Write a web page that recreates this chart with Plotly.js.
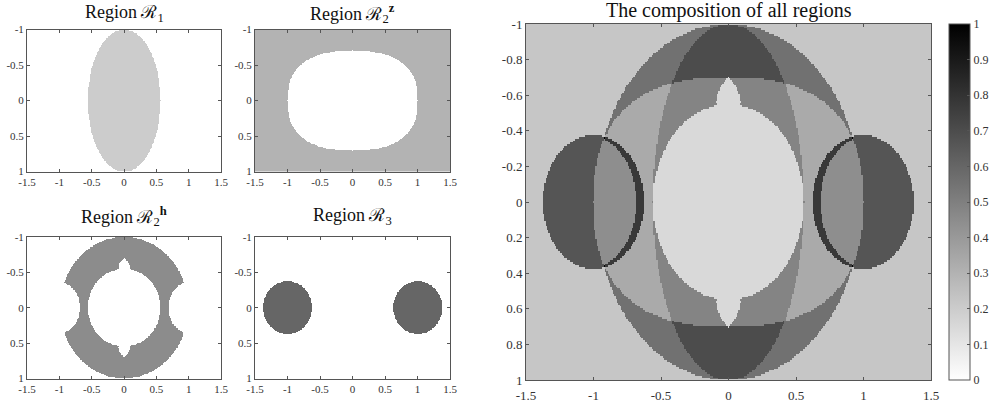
<!DOCTYPE html>
<html><head><meta charset="utf-8">
<script src="https://cdn.plot.ly/plotly-3.0.1.min.js"></script>
<style>html,body{margin:0;padding:0;background:#fff;overflow:hidden}#chart{width:1000px;height:404px}</style>
</head><body><div id="chart"></div>
<script>
// ---------- data ----------
const xTickVals = [-1.5, -1, -0.5, 0, 0.5, 1, 1.5];
const xTickText = ['-1.5', '-1', '-0.5', '0', '0.5', '1', '1.5'];
const ySmallTickVals = [-1, -0.5, 0, 0.5, 1];
const ySmallTickText = ['-1', '-0.5', '0', '0.5', '1'];
const yBigTickVals = [-1, -0.8, -0.6, -0.4, -0.2, 0, 0.2, 0.4, 0.6, 0.8, 1];
const yBigTickText = ['-1', '-0.8', '-0.6', '-0.4', '-0.2', '0', '0.2', '0.4', '0.6', '0.8', '1'];
const cbTickVals = [0, 0.1, 0.2, 0.3, 0.4, 0.5, 0.6, 0.7, 0.8, 0.9, 1];
const cbTickText = ['0', '0.1', '0.2', '0.3', '0.4', '0.5', '0.6', '0.7', '0.8', '0.9', '1'];

const panelTitles = ['Region ℛ<sub>1</sub>', 'Region ℛ<sub>2</sub><sup><b>z</b></sup>',
                     'Region ℛ<sub>2</sub><sup><b>h</b></sup>', 'Region ℛ<sub>3</sub>',
                     'The composition of all regions'];

// sampling grid of the region maps: [start, end, step]
const gridX = [-1.5, 1.5, 0.01];
const gridY = [-1, 1, 0.01];

// region intensities: R1, R2z, R2h, R3
const regionWeights = [0.2, 0.3, 0.45, 0.6];
// R1: centred ellipse [semi-axis x, semi-axis y]
const r1Ellipse = [0.56, 1.0];
// R2z: outside a rounded box [half width, half height, exponent]
const r2zBox = [1.0, 0.7, 2.5];
// R2h: outer ellipse, inner hole, hole bumps [centre |y|, half width, height], side cut-outs [centre |x|, ax, ay]
const r2hOuter = [0.99, 1.0];
const r2hHole = [0.56, 0.55];
const r2hBump = [0.56, 0.09, 0.14];
const r2hCut = [1.0, 0.315, 0.362];
// R3: two discs [centre |x|, radius]
const r3Disc = [1.0, 0.375];

// ---------- region maps ----------
function axisPoints(g) {
  const n = Math.round((g[1] - g[0]) / g[2]);
  const out = [];
  for (let i = 0; i <= n; i++) out.push(+(g[0] + i * g[2]).toFixed(4));
  return out;
}
const xs = axisPoints(gridX), ys = axisPoints(gridY);

function inR1(x, y) { return (x / r1Ellipse[0]) ** 2 + (y / r1Ellipse[1]) ** 2 <= 1; }
function inR2z(x, y) {
  return Math.abs(x / r2zBox[0]) ** r2zBox[2] + Math.abs(y / r2zBox[1]) ** r2zBox[2] > 1;
}
function inR2h(x, y) {
  const outer = (x / r2hOuter[0]) ** 2 + (y / r2hOuter[1]) ** 2 <= 1;
  if (!outer) return false;
  const hole = (x / r2hHole[0]) ** 2 + (y / r2hHole[1]) ** 2 < 1;
  const t = (Math.abs(y) - r2hBump[0]) / r2hBump[2];
  const bump = Math.abs(t) <= 1 && Math.abs(x) <= r2hBump[1] * (1 - t * t);
  const cut = ((Math.abs(x) - r2hCut[0]) / r2hCut[1]) ** 2 + (y / r2hCut[2]) ** 2 < 1;
  return !(hole || bump || cut);
}
function inR3(x, y) { return (Math.abs(x) - r3Disc[0]) ** 2 + y * y <= r3Disc[1] ** 2; }

const tests = [inR1, inR2z, inR2h, inR3];
const maps = tests.map(() => []);
const comp = [];
let compMax = 0;
ys.forEach((y, j) => {
  maps.forEach(m => m.push([]));
  comp.push([]);
  xs.forEach(x => {
    let s = 0;
    tests.forEach((f, k) => {
      const v = f(x, y) ? regionWeights[k] : 0;
      maps[k][j].push(v);
      s += v;
    });
    comp[j].push(s);
    if (s > compMax) compMax = s;
  });
});
const compNorm = comp.map(r => r.map(v => v / compMax));

// ---------- figure ----------
const W = 1000, H = 404;  // canvas a little wider than the 989px view so the colour bar never pushes the margins
const font = 'Liberation Serif, Times New Roman, serif';
const gray = [[0, '#ffffff'], [1, '#000000']];
const panels = [ // pixel boxes [left, right, top, bottom]
  [27, 221, 29.5, 171.5], [255, 450, 29.5, 171.5],
  [27, 221, 237, 378.5], [255, 450, 237, 378.5],
  [526, 931, 24, 380]
];
const traces = [], layout = {
  width: W, height: H, margin: {l: 0, r: 0, t: 0, b: 0},
  paper_bgcolor: '#fff', plot_bgcolor: '#fff', showlegend: false, annotations: []
};
const zs = [maps[0], maps[1], maps[2], maps[3], compNorm];
const titleY = [13, 13, 216, 216, 10.5];
panels.forEach((p, i) => {
  const sx = i === 0 ? '' : String(i + 1);
  const big = i === 4;
  const tf = {family: font, size: big ? 13 : 11, color: '#333'};
  traces.push({
    type: 'heatmap', x: xs, y: ys, z: zs[i], zmin: 0, zmax: 1, colorscale: gray,
    xaxis: 'x' + sx, yaxis: 'y' + sx, hoverinfo: 'skip', zsmooth: false,
    showscale: big,
    colorbar: big ? {
      x: 949 / W, xanchor: 'left', xpad: 0, y: 1 - 202 / H, yanchor: 'middle', ypad: 0,
      len: 356, lenmode: 'pixels', thickness: 21, thicknessmode: 'pixels',
      outlinecolor: '#555', outlinewidth: 1, tickvals: cbTickVals, ticktext: cbTickText,
      ticks: 'inside', ticklen: 3, tickcolor: '#555',
      tickfont: {family: font, size: 12, color: '#333'}
    } : undefined
  });
  layout['xaxis' + sx] = {
    domain: [p[0] / W, p[1] / W], anchor: 'y' + sx, range: [-1.5, 1.5],
    tickvals: xTickVals, ticktext: xTickText, ticks: 'inside', ticklen: 3, tickcolor: '#555',
    showline: true, linecolor: '#555', linewidth: 1, mirror: 'ticks',
    showgrid: false, zeroline: false, tickfont: tf, ticklabelstandoff: big ? 3 : 0
  };
  layout['yaxis' + sx] = {
    domain: [1 - p[3] / H, 1 - p[2] / H], anchor: 'x' + sx, range: [1, -1],
    tickvals: big ? yBigTickVals : ySmallTickVals, ticktext: big ? yBigTickText : ySmallTickText,
    ticks: 'inside', ticklen: 3, tickcolor: '#555',
    showline: true, linecolor: '#555', linewidth: 1, mirror: 'ticks',
    showgrid: false, zeroline: false, tickfont: tf
  };
  layout.annotations.push({
    text: panelTitles[i], showarrow: false, xref: 'paper', yref: 'paper',
    x: (p[0] + p[1]) / 2 / W, y: 1 - titleY[i] / H, xanchor: 'center', yanchor: 'middle',
    font: {family: font, size: big ? 20 : 18, color: '#111'}
  });
});
Plotly.newPlot('chart', traces, layout, {staticPlot: true, displayModeBar: false});
</script>
</body></html>
